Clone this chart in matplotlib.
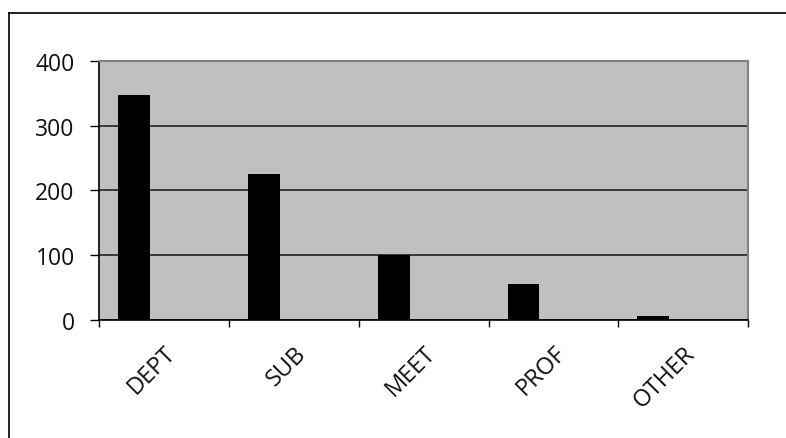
import matplotlib
matplotlib.use('Agg')
from matplotlib import pyplot as plt
from matplotlib.lines import Line2D

categories = ['DEPT', 'SUB', 'MEET', 'PROF', 'OTHER']
values = [348, 225, 100, 55, 6]
y_ticks = [0, 100, 200, 300, 400]

plt.rcParams['font.family'] = ['Open Sans', 'DejaVu Sans']

fig = plt.figure(figsize=(7.86, 4.39), dpi=100)
ax = fig.add_axes([0.126, 0.269, 0.826, 0.590])

# outer chart border: only top and left are inside the picture
x0, y0 = 9 / 786, 1 - 14 / 439
fig.add_artist(Line2D([x0, 1.0], [y0, y0], transform=fig.transFigure,
                      color='black', linewidth=1.2))
fig.add_artist(Line2D([x0, x0], [0.0, y0], transform=fig.transFigure,
                      color='black', linewidth=1.2))

ax.set_facecolor('#c0c0c0')
positions = [i + 0.146 for i in range(len(categories))]
ax.bar(positions, values, width=0.246, align='edge', color='black', zorder=3)

ax.set_xlim(0, len(categories))
ax.set_ylim(0, 400)
ax.set_yticks(y_ticks)
ax.yaxis.grid(True, color='#222222', linewidth=1.2, zorder=1)
ax.set_axisbelow(True)

ax.set_xticks(range(len(categories) + 1))
ax.set_xticklabels([])
ax.set_xticks([i + 0.5 for i in range(len(categories))], minor=True)
ax.set_xticklabels(categories, minor=True, rotation=45, ha='right',
                   rotation_mode='anchor', fontsize=17, color='#111111')
ax.tick_params(axis='x', which='minor', length=0, pad=15)
ax.tick_params(axis='x', which='major', length=5, width=1, direction='out')
ax.tick_params(axis='y', length=6.5, width=1, direction='out', labelsize=16.5,
               pad=11, labelcolor='#111111')

for side in ['left', 'bottom']:
    ax.spines[side].set_color('black')
    ax.spines[side].set_linewidth(1.2)
for side in ['top', 'right']:
    ax.spines[side].set_color('#808080')
    ax.spines[side].set_linewidth(1.5)

fig.savefig('out.png', dpi=100)
